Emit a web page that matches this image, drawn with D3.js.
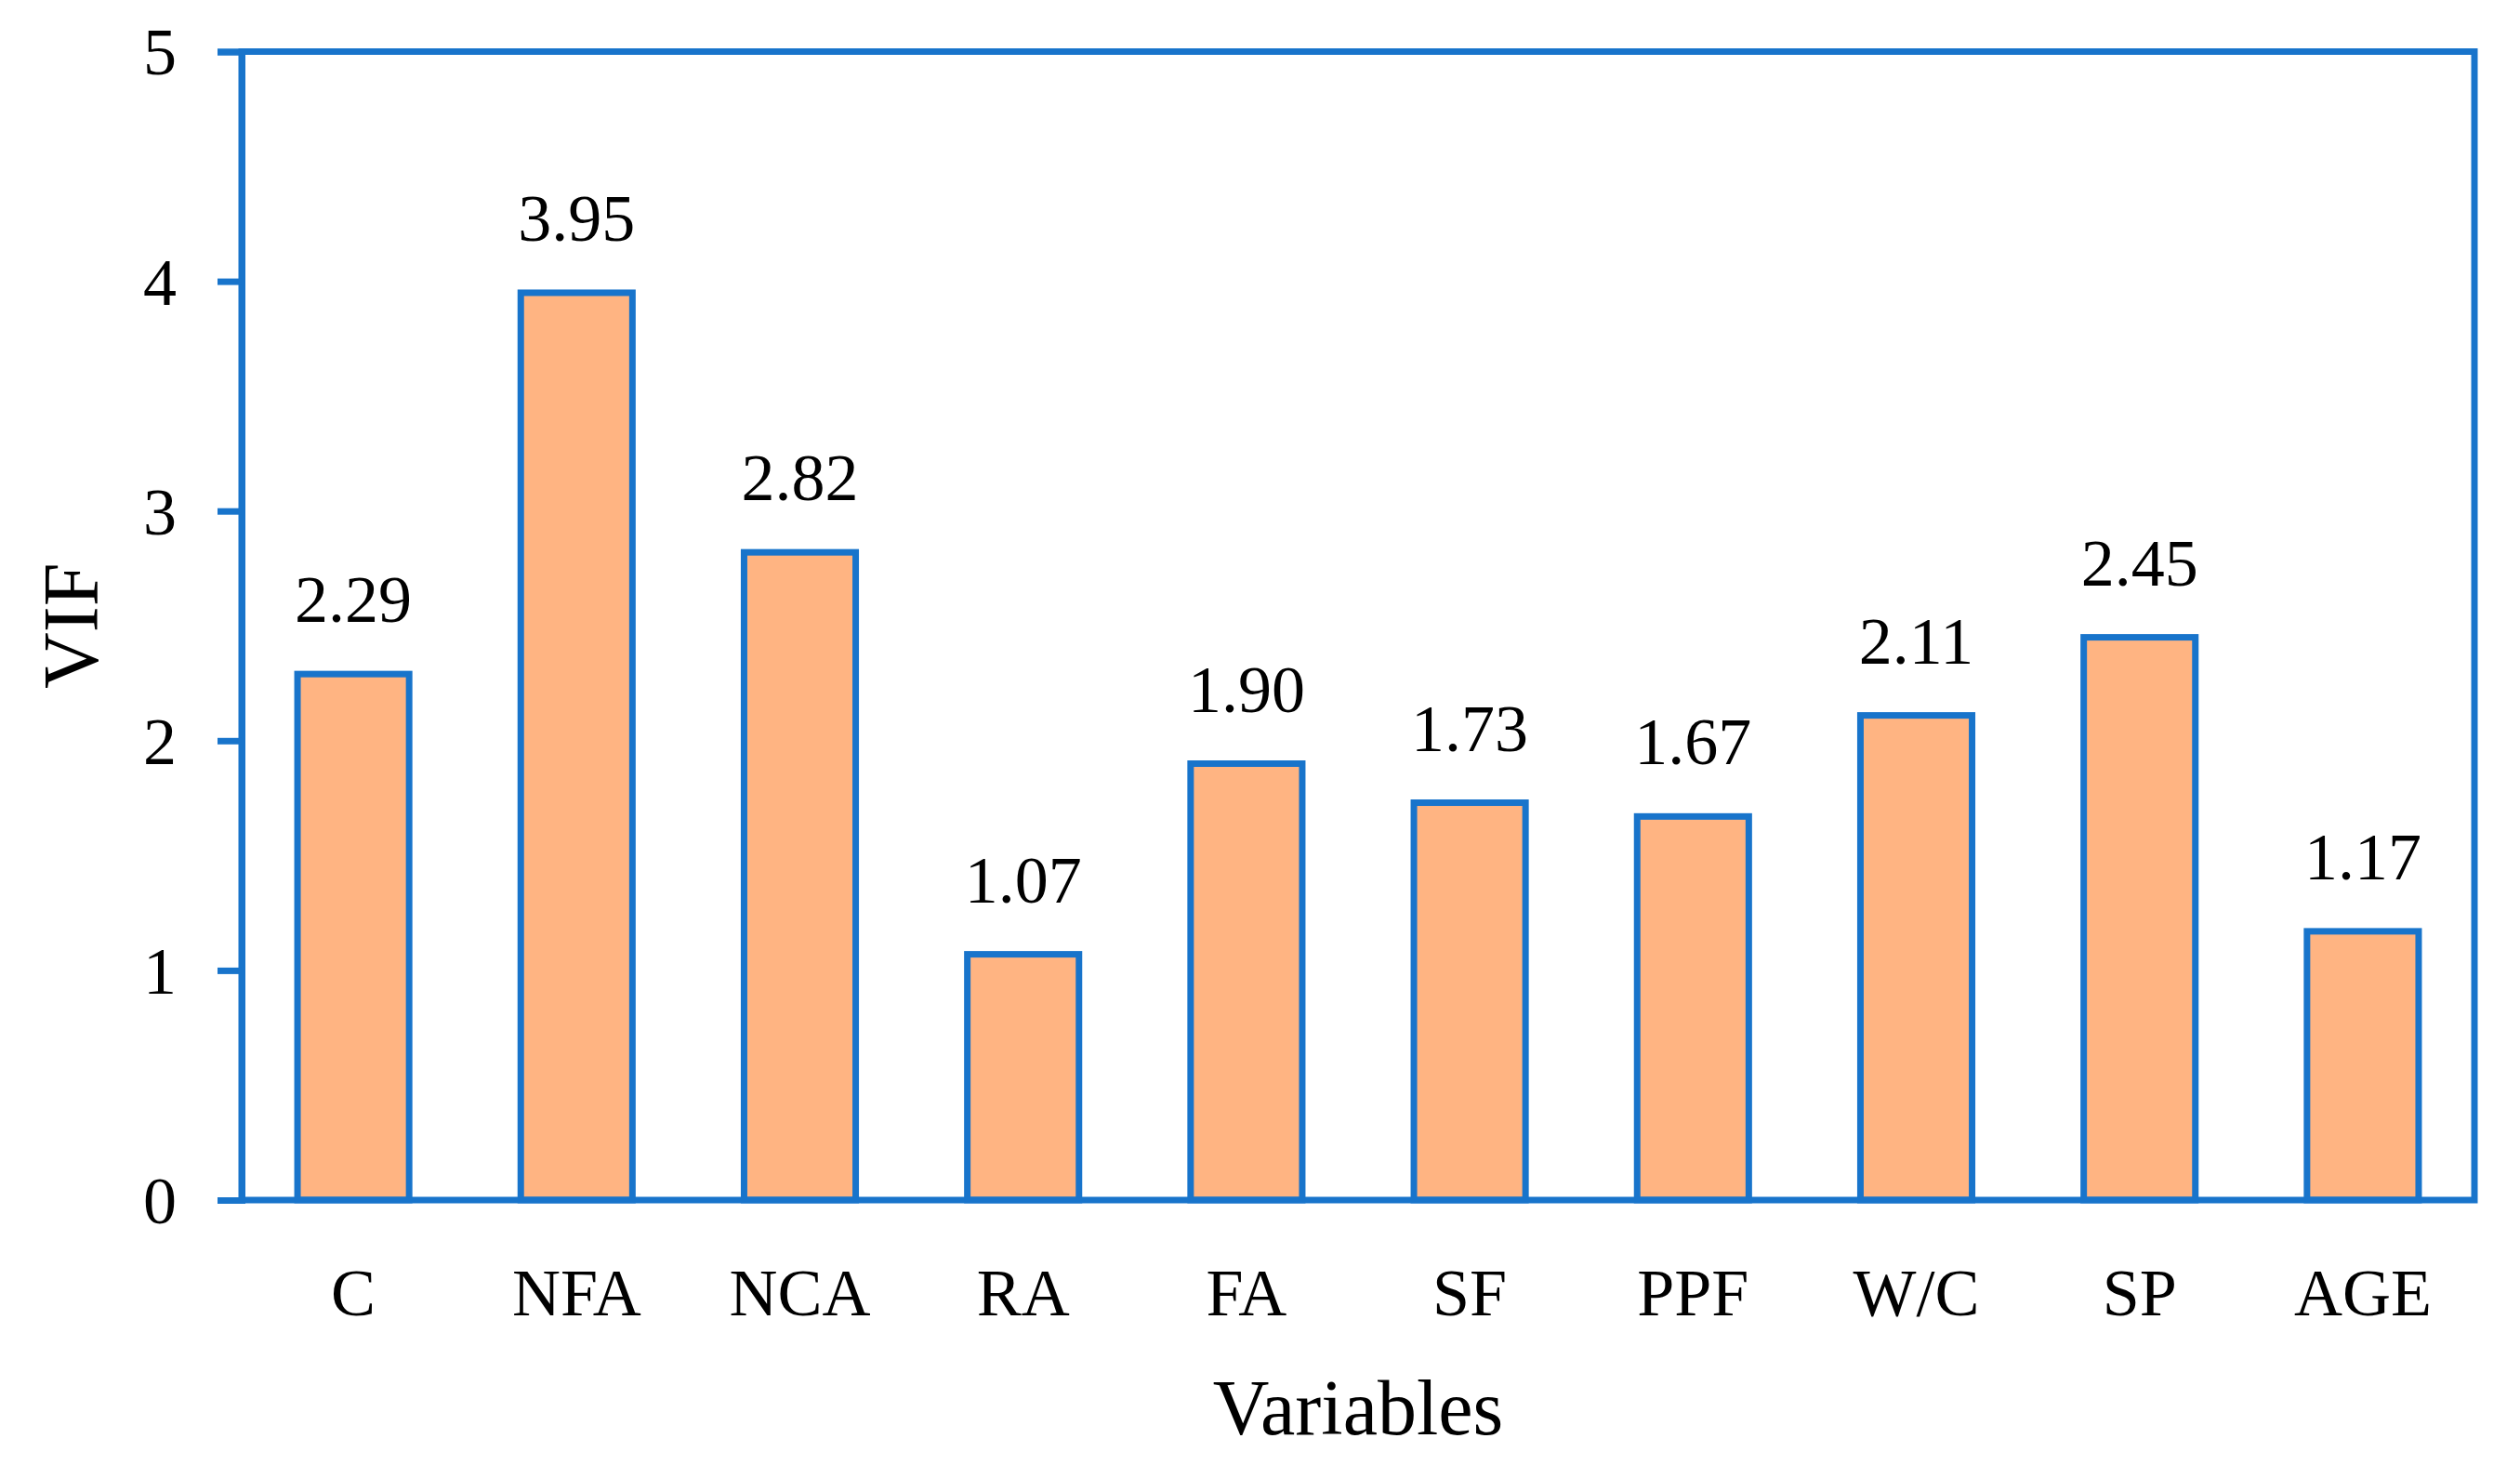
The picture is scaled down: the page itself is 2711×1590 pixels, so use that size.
<!DOCTYPE html>
<html>
<head>
<meta charset="utf-8">
<script src="https://cdn.jsdelivr.net/npm/d3@7"></script>
<style>
html,body{margin:0;padding:0;background:#fff;}
svg{display:block;}
text{font-family:"Liberation Serif","Times New Roman",serif;fill:#000;}
</style>
</head>
<body>
<svg id="chart" width="2711" height="1590"></svg>
<script>
const categories = ["C","NFA","NCA","RA","FA","SF","PPF","W/C","SP","AGE"];
const vifValues = [2.29,3.95,2.82,1.07,1.90,1.73,1.67,2.11,2.45,1.17];
const valueLabels = ["2.29","3.95","2.82","1.07","1.90","1.73","1.67","2.11","2.45","1.17"];
const yTicks = [0,1,2,3,4,5];

(function(){
const blue = "#1874CB";
const fill = "#FFB482";
const lw = 7;

const svg = d3.select("#chart");
const pLeft = 260, pRight = 2662, pTop = 55.5, pBottom = 1291;

const x = d3.scaleBand().domain(categories).range([pLeft, pRight]).paddingInner(0.5).paddingOuter(0.25);
const y = d3.scaleLinear().domain([0,5]).range([pBottom, pTop]);

// bars
svg.append("g").selectAll("rect").data(categories).join("rect")
  .attr("x", d => x(d))
  .attr("width", x.bandwidth())
  .attr("y", (d,i) => y(vifValues[i]))
  .attr("height", (d,i) => y(0) - y(vifValues[i]))
  .attr("fill", fill)
  .attr("stroke", blue)
  .attr("stroke-width", lw);

// frame
svg.append("rect")
  .attr("x", pLeft).attr("y", pTop)
  .attr("width", pRight - pLeft).attr("height", pBottom - pTop)
  .attr("fill", "none").attr("stroke", blue).attr("stroke-width", lw);

// y axis
const yAxis = d3.axisLeft(y).tickValues(yTicks).tickSize(26).tickPadding(44).tickFormat(d3.format("d"));
const gy = svg.append("g").attr("transform", `translate(${pLeft},0)`).call(yAxis);
gy.select(".domain").attr("stroke", blue).attr("stroke-width", lw);
gy.selectAll(".tick line").attr("stroke", blue).attr("stroke-width", lw);
gy.selectAll(".tick text").attr("font-size", 72).attr("font-family", "Liberation Serif").attr("fill", "#000").attr("dy", "0.34em");

// x axis labels
const xAxis = d3.axisBottom(x).tickSize(0).tickPadding(0);
const gx = svg.append("g").attr("transform", `translate(0,${pBottom})`).call(xAxis);
gx.select(".domain").remove();
gx.selectAll(".tick text").attr("font-size", 72).attr("font-family", "Liberation Serif").attr("fill", "#000")
  .attr("dy", null).attr("y", 124);

// value labels
svg.append("g").selectAll("text").data(categories).join("text")
  .attr("x", d => x(d) + x.bandwidth()/2)
  .attr("y", (d,i) => y(vifValues[i]) - 56)
  .attr("text-anchor", "middle")
  .attr("font-size", 72)
  .text((d,i) => valueLabels[i]);

// axis titles
svg.append("text").attr("x", (pLeft+pRight)/2).attr("y", 1543)
  .attr("text-anchor", "middle").attr("font-size", 84).text("Variables");
svg.append("text").attr("transform", `translate(105,${(pTop+pBottom)/2}) rotate(-90)`)
  .attr("text-anchor", "middle").attr("font-size", 84).text("VIF");
})();
</script>
</body>
</html>
